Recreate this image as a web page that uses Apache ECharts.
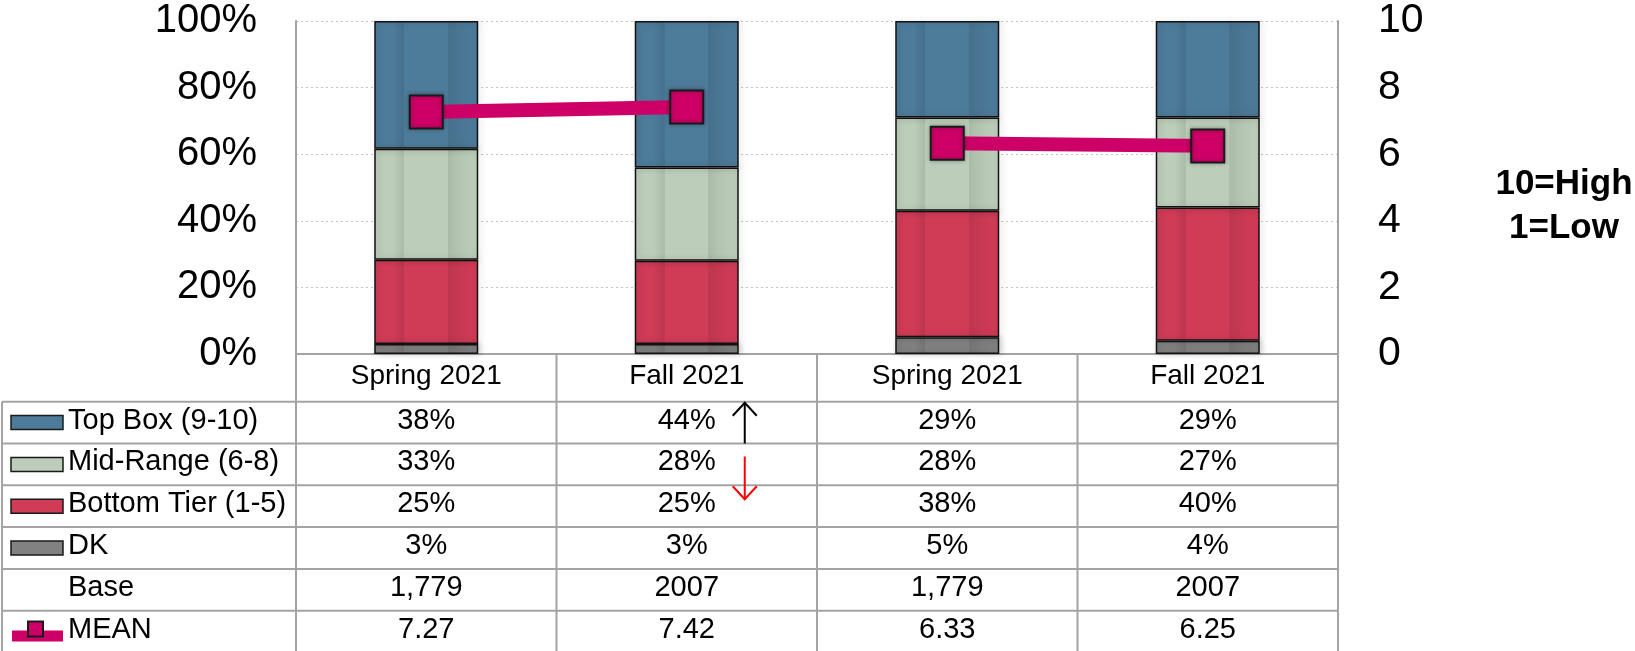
<!DOCTYPE html>
<html>
<head>
<meta charset="utf-8">
<script src="https://cdn.jsdelivr.net/npm/echarts@6/dist/echarts.min.js"></script>
<style>
  html, body { margin: 0; padding: 0; background: #fff; }
  #chart { width: 1635px; height: 651px; }
</style>
</head>
<body>
<div id="chart"></div>
<script>
// data
const categories = ['Spring 2021', 'Fall 2021', 'Spring 2021', 'Fall 2021'];
const topBox = [38, 44, 29, 29];
const midRange = [33, 28, 28, 27];
const bottomTier = [25, 25, 38, 40];
const dk = [3, 3, 5, 4];
const baseLabels = ['1,779', '2007', '1,779', '2007'];
const mean = [7.27, 7.42, 6.33, 6.25];
const leftTicks = [0, 20, 40, 60, 80, 100];
const rightTicks = [0, 2, 4, 6, 8, 10];

const FONT = '"Liberation Sans", Arial, sans-serif';
const MEAN_COLOR = '#CC0066';
const GRID_LINE = '#a3a3a3';

const segments = [
  { name: 'DK', data: dk, color: '#818181' },
  { name: 'Bottom Tier (1-5)', data: bottomTier, color: '#D03B56' },
  { name: 'Mid-Range (6-8)', data: midRange, color: '#BCCEBA' },
  { name: 'Top Box (9-10)', data: topBox, color: '#4D7B9A' },
];

// 100% stacked: each column fills to 100
const totals = categories.map((_, i) =>
  segments.reduce((s, seg) => s + seg.data[i], 0)
);

function darken(hex, f) {
  const n = parseInt(hex.slice(1), 16);
  const r = Math.round(((n >> 16) & 255) * (1 - f));
  const g = Math.round(((n >> 8) & 255) * (1 - f));
  const b = Math.round((n & 255) * (1 - f));
  return `rgb(${r},${g},${b})`;
}

// soft bevel look of the original bars
function barFill(c) {
  return new echarts.graphic.LinearGradient(0, 0, 1, 0, [
    { offset: 0, color: c },
    { offset: 0.18, color: c },
    { offset: 0.285, color: darken(c, 0.09) },
    { offset: 0.29, color: c },
    { offset: 0.705, color: c },
    { offset: 0.71, color: darken(c, 0.09) },
    { offset: 0.85, color: darken(c, 0.03) },
    { offset: 1, color: c },
  ]);
}

const chart = echarts.init(document.getElementById('chart'));

const barSeries = segments.map((seg) => ({
  name: seg.name,
  type: 'bar',
  stack: 'total',
  barWidth: 104,
  silent: true,
  data: seg.data.map((v, i) => (v / totals[i]) * 100),
  itemStyle: {
    color: barFill(seg.color),
    borderColor: '#111',
    borderWidth: 1.5,
    shadowBlur: 6,
    shadowColor: 'rgba(0,0,0,0.22)',
    shadowOffsetX: 2,
  },
}));

const meanStyle = {
  type: 'line',
  yAxisIndex: 1,
  symbol: 'rect',
  symbolSize: 33,
  silent: true,
  z: 5,
  lineStyle: { color: MEAN_COLOR, width: 14 },
  itemStyle: {
    color: MEAN_COLOR,
    borderColor: '#1a1a1a',
    borderWidth: 2,
    shadowBlur: 4,
    shadowColor: 'rgba(0,0,0,0.3)',
  },
};

chart.setOption({
  animation: false,
  grid: { left: 296, right: 297, top: 21, bottom: 297 },
  xAxis: {
    type: 'category',
    data: categories,
    axisTick: { show: false },
    axisLine: { lineStyle: { color: GRID_LINE, width: 2 } },
    axisLabel: {
      color: '#000',
      fontFamily: FONT,
      fontSize: 28,
      margin: 22,
      verticalAlign: 'middle',
    },
  },
  yAxis: [
    {
      type: 'value',
      min: leftTicks[0],
      max: leftTicks[leftTicks.length - 1],
      interval: leftTicks[1] - leftTicks[0],
      axisLine: { show: true, lineStyle: { color: GRID_LINE, width: 2 } },
      axisTick: { show: false },
      axisLabel: {
        formatter: '{value}%',
        color: '#000',
        fontFamily: FONT,
        fontSize: 40,
        margin: 39,
      },
      splitLine: { lineStyle: { color: '#c4c4c4', type: [2, 3], width: 1 } },
    },
    {
      type: 'value',
      min: rightTicks[0],
      max: rightTicks[rightTicks.length - 1],
      interval: rightTicks[1] - rightTicks[0],
      position: 'right',
      axisLine: { show: true, lineStyle: { color: GRID_LINE, width: 2 } },
      axisTick: { show: false },
      axisLabel: {
        color: '#000',
        fontFamily: FONT,
        fontSize: 41,
        margin: 40,
      },
      splitLine: { show: false },
    },
  ],
  series: [
    ...barSeries,
    Object.assign({ name: 'MEAN', data: mean.map((v, i) => (i < 2 ? v : '-')) }, meanStyle),
    Object.assign({ name: 'MEAN ', data: mean.map((v, i) => (i >= 2 ? v : '-')) }, meanStyle),
  ],
});

// ---- data table under the plot ----
const colCenters = categories.map((_, i) => chart.convertToPixel({ xAxisIndex: 0 }, i));
const plotLeft = 296;
const plotRight = 1635 - 297;
const colW = (plotRight - plotLeft) / categories.length;
const tableTop = chart.convertToPixel({ yAxisIndex: 0 }, 0);
const tableLeft = 2;
const headerH = 47.7;
const rowH = 41.8;

const rowLabels = ['Top Box (9-10)', 'Mid-Range (6-8)', 'Bottom Tier (1-5)', 'DK', 'Base', 'MEAN'];
const pct = (arr) => arr.map((v) => v + '%');
const rowValues = [
  pct(topBox),
  pct(midRange),
  pct(bottomTier),
  pct(dk),
  baseLabels,
  mean.map((v) => v.toFixed(2)),
];
const rowColors = ['#4D7B9A', '#BCCEBA', '#D03B56', '#818181', null, null];

const rowLines = [];
for (let r = 0; r <= rowLabels.length; r++) rowLines.push(tableTop + headerH + r * rowH);
const tableBottom = rowLines[rowLines.length - 1];

const g = [];
const line = (x1, y1, x2, y2, color, w) => g.push({
  type: 'line', silent: true, z: 10,
  shape: { x1, y1, x2, y2 },
  style: { stroke: color || GRID_LINE, lineWidth: w || 2 },
});
const text = (x, y, t, align, extra) => g.push({
  type: 'text', silent: true, z: 11, x, y,
  style: Object.assign({
    text: t, fill: '#000', font: '29px ' + FONT,
    align: align || 'center', verticalAlign: 'middle',
  }, extra || {}),
});

rowLines.forEach((y) => line(tableLeft, y, plotRight, y));
line(tableLeft, rowLines[0], tableLeft, tableBottom);
for (let c = 0; c <= categories.length; c++) {
  const x = plotLeft + c * colW;
  line(x, tableTop, x, tableBottom);
}

rowLabels.forEach((label, r) => {
  const cy = rowLines[r] + rowH / 2;
  text(68, cy - 2, label, 'left');
  rowValues[r].forEach((v, i) => text(colCenters[i], cy - 2, v));
  if (rowColors[r]) {
    g.push({
      type: 'rect', silent: true, z: 11,
      shape: { x: 11, y: cy - 7, width: 52, height: 14 },
      style: { fill: rowColors[r], stroke: '#1a1a1a', lineWidth: 1.5 },
    });
  }
  if (label === 'MEAN') {
    g.push({
      type: 'rect', silent: true, z: 11,
      shape: { x: 12, y: cy - 1, width: 51, height: 11 },
      style: { fill: MEAN_COLOR },
    });
    g.push({
      type: 'rect', silent: true, z: 12,
      shape: { x: 28, y: cy - 10, width: 15, height: 15 },
      style: { fill: MEAN_COLOR, stroke: '#1a1a1a', lineWidth: 2 },
    });
  }
});

// change arrows next to Fall 2021
const ax = colCenters[1] + 58;
g.push({
  type: 'polyline', silent: true, z: 12,
  shape: { points: [[ax, rowLines[1]], [ax, rowLines[0] + 1]] },
  style: { stroke: '#000', lineWidth: 2, fill: null },
});
g.push({
  type: 'polyline', silent: true, z: 12,
  shape: { points: [[ax - 12, rowLines[0] + 14], [ax, rowLines[0] + 1], [ax + 12, rowLines[0] + 14]] },
  style: { stroke: '#000', lineWidth: 2, fill: null },
});
g.push({
  type: 'polyline', silent: true, z: 12,
  shape: { points: [[ax, rowLines[1] + 13], [ax, rowLines[2] + 14]] },
  style: { stroke: '#ff0000', lineWidth: 2, fill: null },
});
g.push({
  type: 'polyline', silent: true, z: 12,
  shape: { points: [[ax - 12, rowLines[2] + 1], [ax, rowLines[2] + 14], [ax + 12, rowLines[2] + 1]] },
  style: { stroke: '#ff0000', lineWidth: 2, fill: null },
});

// scale note on the right
g.push({
  type: 'text', silent: true, z: 11, x: 1564, y: 206,
  style: {
    text: '10=High\n1=Low', fill: '#000', font: 'bold 35px ' + FONT,
    align: 'center', verticalAlign: 'middle', lineHeight: 44,
  },
});

chart.setOption({ graphic: g });
</script>
</body>
</html>
